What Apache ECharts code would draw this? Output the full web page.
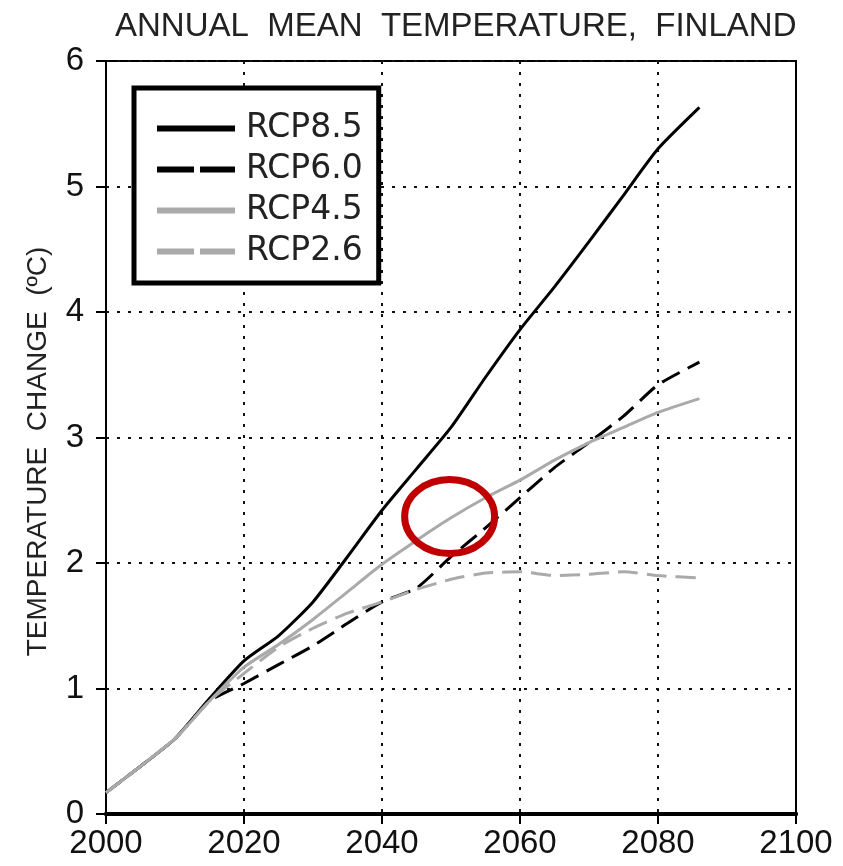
<!DOCTYPE html>
<html>
<head>
<meta charset="utf-8">
<script src="https://cdn.jsdelivr.net/npm/echarts@6/dist/echarts.min.js"></script>
<style>
    html, body { margin: 0; padding: 0; background: #fff; }
    #chart { width: 843px; height: 866px; }
</style>
</head>
<body>
<div id="chart"></div>
<script>
    // values
    var years = [2000, 2005, 2010, 2015, 2020, 2025, 2030, 2035, 2040, 2045, 2050, 2055, 2060, 2065, 2070, 2075, 2080, 2086];
    var rcp85 = [0.17, 0.38, 0.60, 0.92, 1.22, 1.42, 1.69, 2.05, 2.42, 2.75, 3.08, 3.48, 3.86, 4.20, 4.56, 4.93, 5.30, 5.63];
    var rcp60 = [0.17, 0.38, 0.60, 0.90, 1.04, 1.19, 1.34, 1.52, 1.69, 1.80, 2.05, 2.28, 2.52, 2.76, 2.96, 3.17, 3.42, 3.60];
    var rcp45 = [0.17, 0.38, 0.60, 0.90, 1.17, 1.35, 1.55, 1.77, 1.99, 2.18, 2.36, 2.52, 2.66, 2.82, 2.96, 3.08, 3.20, 3.31];
    var rcp26 = [0.17, 0.38, 0.60, 0.90, 1.12, 1.33, 1.48, 1.60, 1.69, 1.79, 1.87, 1.92, 1.93, 1.90, 1.91, 1.93, 1.90, 1.88];
    var seriesNames = ['RCP8.5', 'RCP6.0', 'RCP4.5', 'RCP2.6'];
    var xTicks = [2000, 2020, 2040, 2060, 2080, 2100];
    var yTicks = [0, 1, 2, 3, 4, 5, 6];
    // where the red ring sits, in data units
    var ringCenter = [2049.8, 2.37];

    var sans = '"Liberation Sans", Arial, sans-serif';
    var gridDots = { color: '#111', width: 2, type: [3, 8] };

    function pairs(values) {
        return years.map(function (y, i) { return [y, values[i]]; });
    }

    function lineSeries(name, values, color, dashed) {
        return {
            name: name,
            type: 'line',
            symbol: 'none',
            smooth: 0.2,
            lineStyle: { color: color, width: 3, type: dashed ? [20, 9] : 'solid' },
            itemStyle: { color: color },
            data: pairs(values)
        };
    }

    var chart = echarts.init(document.getElementById('chart'), null, { renderer: 'canvas' });

    chart.setOption({
        animation: false,
        title: {
            text: 'ANNUAL  MEAN  TEMPERATURE,  FINLAND',
            left: 110,
            top: 5,
            textStyle: { fontFamily: sans, fontSize: 33, fontWeight: 'normal', color: '#222' }
        },
        grid: {
            left: 106,
            right: 47,
            top: 61,
            bottom: 52,
            show: true,
            borderColor: '#000',
            borderWidth: 2
        },
        legend: {
            orient: 'vertical',
            left: 134,
            top: 88,
            padding: [24, 16, 15, 20],
            itemWidth: 78,
            itemHeight: 30,
            itemGap: 8,
            backgroundColor: '#fff',
            borderColor: '#000',
            borderWidth: 5,
            borderRadius: 0,
            // hide the symbol, keep only the line sample
            itemStyle: { opacity: 0 },
            textStyle: { fontFamily: '"DejaVu Sans", sans-serif', fontSize: 33, color: '#222', padding: [0, 0, 0, 6] },
            data: [
                { name: seriesNames[0], lineStyle: { width: 6, type: 'solid' } },
                { name: seriesNames[1], lineStyle: { width: 6, type: [37, 6] } },
                { name: seriesNames[2], lineStyle: { width: 6, type: 'solid' } },
                { name: seriesNames[3], lineStyle: { width: 6, type: [37, 6] } }
            ]
        },
        xAxis: [{
            type: 'value',
            min: xTicks[0],
            max: xTicks[xTicks.length - 1],
            interval: 20,
            axisLine: { show: true, lineStyle: { color: '#000', width: 4 } },
            axisTick: { show: true, length: 10, lineStyle: { color: '#000', width: 2 } },
            axisLabel: {
                margin: 13, fontFamily: sans, fontSize: 33, color: '#111',
                formatter: function (v) { return String(v); }
            },
            splitLine: { show: true, lineStyle: gridDots }
        }, {
            // thick frame line along the top
            type: 'value',
            position: 'top',
            min: xTicks[0],
            max: xTicks[xTicks.length - 1],
            interval: 20,
            axisLine: { show: true, lineStyle: { color: '#000', width: 4 } },
            axisTick: { show: false },
            axisLabel: { show: false },
            splitLine: { show: false }
        }],
        yAxis: [{
            type: 'value',
            min: yTicks[0],
            max: yTicks[yTicks.length - 1],
            interval: 1,
            name: 'TEMPERATURE  CHANGE  (ºC)',
            nameLocation: 'middle',
            nameRotate: 90,
            nameGap: 54,
            nameTextStyle: { fontFamily: sans, fontSize: 28, color: '#222', padding: [0, 28, 0, 0] },
            axisLine: { show: true, lineStyle: { color: '#000', width: 2 } },
            axisTick: { show: true, length: 10, lineStyle: { color: '#000', width: 2 } },
            axisLabel: { margin: 22, fontFamily: sans, fontSize: 33, color: '#111' },
            splitLine: { show: true, lineStyle: gridDots }
        }, {
            type: 'value',
            position: 'right',
            min: yTicks[0],
            max: yTicks[yTicks.length - 1],
            interval: 1,
            axisLine: { show: true, lineStyle: { color: '#000', width: 2 } },
            axisTick: { show: false },
            axisLabel: { show: false },
            splitLine: { show: false }
        }],
        series: [
            lineSeries(seriesNames[0], rcp85, '#000', false),
            lineSeries(seriesNames[1], rcp60, '#000', true),
            lineSeries(seriesNames[2], rcp45, '#aaa', false),
            lineSeries(seriesNames[3], rcp26, '#aaa', true)
        ]
    });

    // red ring annotation, placed through the axes
    var c = chart.convertToPixel({ xAxisIndex: 0, yAxisIndex: 0 }, ringCenter);
    chart.setOption({
        graphic: [{
            type: 'ellipse',
            z: 100,
            shape: { cx: c[0], cy: c[1], rx: 45, ry: 37 },
            style: { fill: 'none', stroke: '#c00000', lineWidth: 7 }
        }]
    });

    window.addEventListener('resize', function () {
        chart.resize();
    });
</script>
</body>
</html>
